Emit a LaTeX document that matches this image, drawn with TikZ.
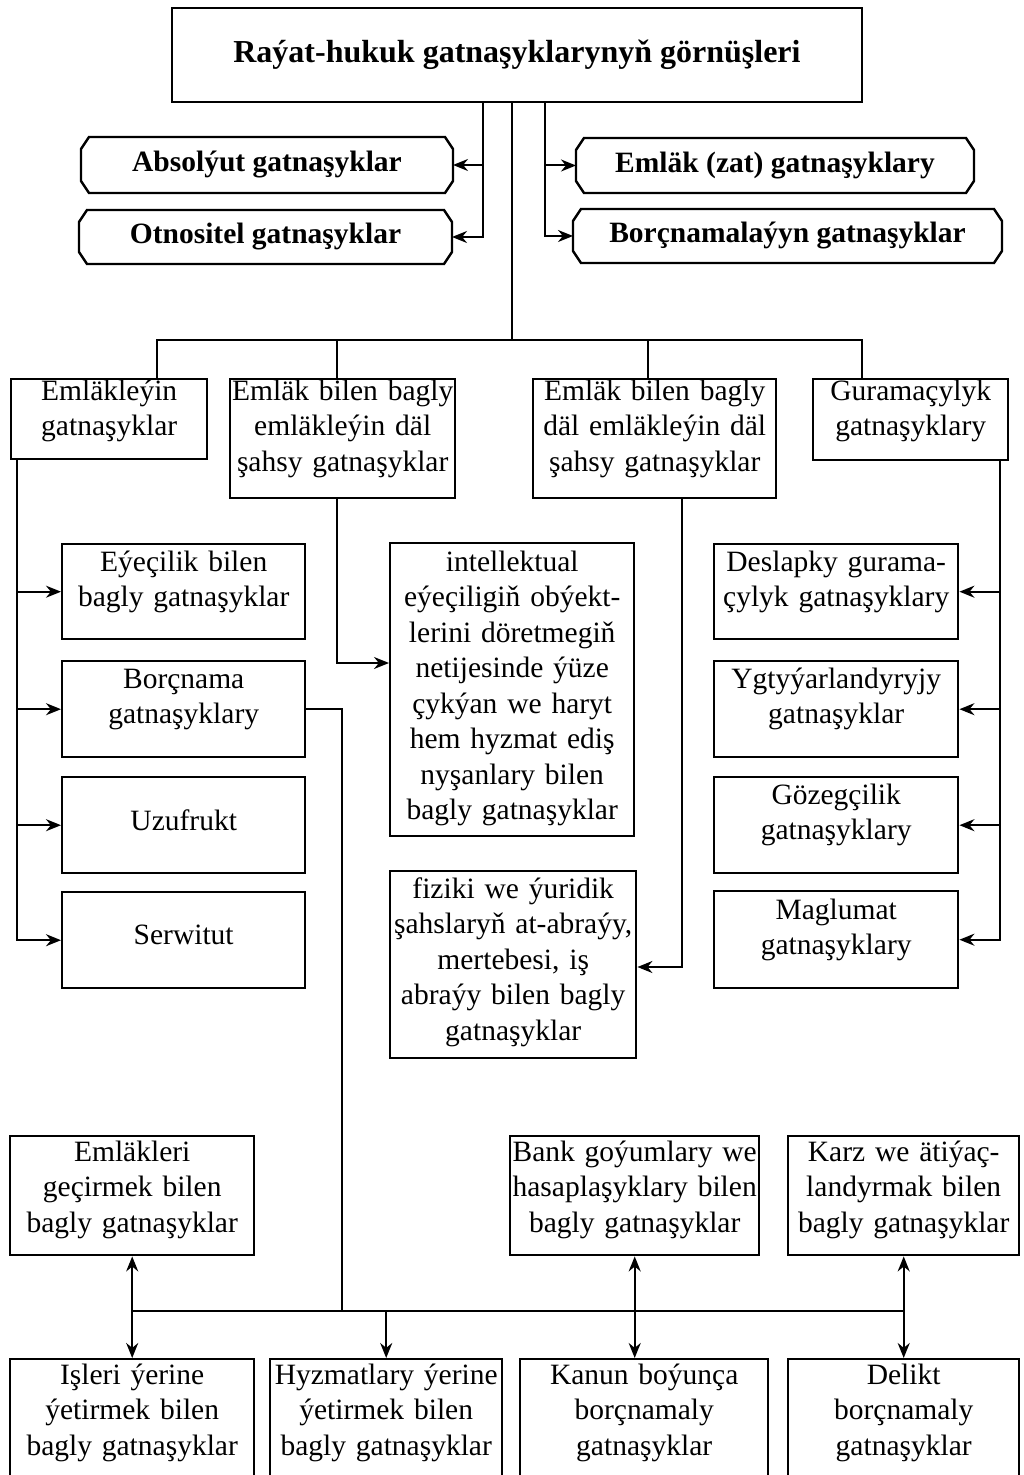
\documentclass[tikz,border=0pt]{standalone}
\usepackage{fontspec}
\setmainfont{Liberation Serif}
\usetikzlibrary{arrows.meta}

\newcommand\boxfont{\fontsize{14.75pt}{17.75pt}\selectfont}

\tikzset{
  box/.style={draw, line width=1.2pt, rectangle, inner sep=0pt, anchor=north west, align=center, font=\boxfont},
  cbox/.style={rectangle, inner sep=0pt, font=\boxfont\bfseries},
}

\begin{document}
\begin{tikzpicture}[x=0.5pt, y=-0.5pt, line width=1pt, >={Stealth[length=7.5pt,width=6pt]}]
    \useasboundingbox (0,0) rectangle (1023,1475);
    \clip (0,0) rectangle (1023,1475);
    % top
    \node[draw, line width=1.2pt, minimum width=345pt, minimum height=47pt, inner sep=0pt, font=\fontsize{16pt}{19pt}\selectfont\bfseries] (title) at (517,55) {Raýat-hukuk gatnaşyklarynyň görnüşleri};
    \node[cbox, minimum width=185pt, minimum height=27pt] (abs) at (267,165) {Absolýut gatnaşyklar};
    \node[cbox, minimum width=185.5pt, minimum height=26pt] (otn) at (265.5,237) {Otnositel gatnaşyklar};
    \node[cbox, minimum width=198pt, minimum height=26.5pt] (zat) at (775,165.5) {Emläk (zat) gatnaşyklary};
    \node[cbox, minimum width=213.5pt, minimum height=26pt] (borc) at (787.5,236) {Borçnamalaýyn gatnaşyklar};
    \foreach \n in {abs,otn,zat,borc}
      \draw[line width=1.2pt] ([xshift=4pt]\n.north west) -- ([xshift=-4pt]\n.north east)
        -- ([yshift=-6pt]\n.north east) -- ([yshift=6pt]\n.south east)
        -- ([xshift=-4pt]\n.south east) -- ([xshift=4pt]\n.south west)
        -- ([yshift=6pt]\n.south west) -- ([yshift=-6pt]\n.north west) -- cycle;
    \draw[->] (title.south -| 483,0) |- (abs);
    \draw[->] (title.south -| 483,0) |- (otn);
    \draw[->] (title.south -| 545,0) |- (zat);
    \draw[->] (title.south -| 545,0) |- (borc);
    % groups
    \node[box, text width=98pt, text height=10.5pt, text depth=29.5pt] (eml) at (10,378) {Emläkleýin\\gatnaşyklar};
    \node[box, text width=112.5pt, text height=10.5pt, text depth=49pt] (ebe) at (229,378) {Emläk bilen bagly\\emläkleýin däl\\şahsy gatnaşyklar};
    \node[box, text width=121.5pt, text height=10.5pt, text depth=49pt] (ebd) at (532,378) {Emläk bilen bagly\\däl emläkleýin däl\\şahsy gatnaşyklar};
    \node[box, text width=97.5pt, text height=10.5pt, text depth=30pt] (gur) at (812,378) {Guramaçylyk\\gatnaşyklary};
    \draw (title.south -| 512,0) -- (512,340);
    \draw (eml.north -| 157,0) -- ++(0,-38) -| (gur.north -| 862,0);
    \draw (ebe.north -| 337,0) -- ++(0,-38);
    \draw (ebd.north -| 648,0) -- ++(0,-38);
    % left column
    \node[box, text width=121.5pt, text height=13.5pt, text depth=34pt] (eye) at (61,543) {Eýeçilik bilen\\bagly gatnaşyklar};
    \node[box, text width=121.5pt, text height=13.5pt, text depth=34.5pt] (brc) at (61,660) {Borçnama\\gatnaşyklary};
    \node[box, text width=121.5pt, text height=26.5pt, text depth=21.5pt] (uzu) at (61,776) {Uzufrukt};
    \node[box, text width=121.5pt, text height=26pt, text depth=22pt] (ser) at (61,891) {Serwitut};
    \draw[->] (eml.south -| 17,0) |- (eye);
    \draw[->] (eml.south -| 17,0) |- (brc);
    \draw[->] (eml.south -| 17,0) |- (uzu);
    \draw[->] (eml.south -| 17,0) |- (ser);
    % middle column
    \node[box, text width=122pt, text height=14pt, text depth=132.5pt] (int) at (389,542) {intellektual\\eýeçiligiň obýekt-\\lerini döretmegiň\\netijesinde ýüze\\çykýan we haryt\\hem hyzmat ediş\\nyşanlary bilen\\bagly gatnaşyklar};
    \node[box, text width=123pt, text height=13.5pt, text depth=80pt] (fiz) at (389,870) {fiziki we ýuridik\\şahslaryň at-abraýy,\\mertebesi, iş\\abraýy bilen bagly\\gatnaşyklar};
    \draw[->] (ebe.south -| 337,0) |- (int.west |- 0,663);
    \draw[->] (ebd.south -| 682,0) |- (fiz.east |- 0,967);
    % right column
    \node[box, text width=122pt, text height=13.5pt, text depth=34pt] (des) at (713,543) {Deslapky gurama-\\çylyk gatnaşyklary};
    \node[box, text width=122pt, text height=13.5pt, text depth=34.5pt] (ygt) at (713,660) {Ygtyýarlandyryjy\\gatnaşyklar};
    \node[box, text width=122pt, text height=13.5pt, text depth=34.5pt] (goz) at (713,776) {Gözegçilik\\gatnaşyklary};
    \node[box, text width=122pt, text height=14pt, text depth=34.5pt] (mag) at (713,890) {Maglumat\\gatnaşyklary};
    \draw[->] (gur.south -| 1000,0) |- (des);
    \draw[->] (gur.south -| 1000,0) |- (ygt);
    \draw[->] (gur.south -| 1000,0) |- (goz);
    \draw[->] (gur.south -| 1000,0) |- (mag);
    % obligations
    \node[box, text width=122pt, text height=12.5pt, text depth=47pt] (emk) at (9,1135) {Emläkleri\\geçirmek bilen\\bagly gatnaşyklar};
    \node[box, text width=124.5pt, text height=12.5pt, text depth=47pt] (bnk) at (509,1135) {Bank goýumlary we\\hasaplaşyklary bilen\\bagly gatnaşyklar};
    \node[box, text width=115.5pt, text height=12.5pt, text depth=47pt] (krz) at (787,1135) {Karz we ätiýaç-\\landyrmak bilen\\bagly gatnaşyklar};
    \node[box, text width=122pt, text height=12.5pt, text depth=48.5pt] (isl) at (9,1358) {Işleri ýerine\\ýetirmek bilen\\bagly gatnaşyklar};
    \node[box, text width=116pt, text height=12.5pt, text depth=48.5pt] (hyz) at (269,1358) {Hyzmatlary ýerine\\ýetirmek bilen\\bagly gatnaşyklar};
    \node[box, text width=124pt, text height=12.5pt, text depth=48.5pt] (kan) at (519,1358) {Kanun boýunça\\borçnamaly\\gatnaşyklar};
    \node[box, text width=115.5pt, text height=12.5pt, text depth=48.5pt] (del) at (787,1358) {Delikt\\borçnamaly\\gatnaşyklar};
    \coordinate (bus) at (342,1311);
    \draw (brc.east) -| (bus);
    \draw (emk.south |- bus) -- (krz.south |- bus);
    \draw[<->] (emk) -- (isl);
    \draw[->] (hyz.north |- bus) -- (hyz);
    \draw[<->] (bnk) -- (bnk.south |- kan.north);
    \draw[<->] (krz) -- (del);
\end{tikzpicture}
\end{document}
